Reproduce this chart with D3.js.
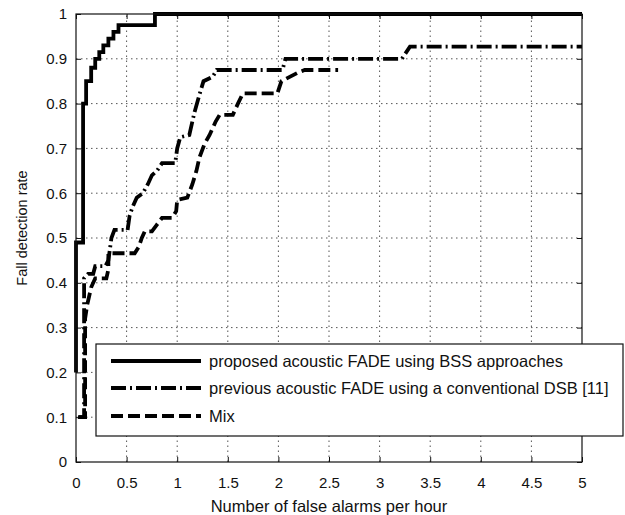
<!DOCTYPE html>
<html>
<head>
<meta charset="utf-8">
<script src="https://cdn.jsdelivr.net/npm/d3@7"></script>
<style>
  body { margin: 0; background: #fff; }
  svg { display: block; font-family: "Liberation Sans", Arial, sans-serif; }
</style>
</head>
<body>
<svg width="625" height="515"></svg>
<script>
var svg = d3.select('svg');

// tick labels
var xTicks = [0, 0.5, 1, 1.5, 2, 2.5, 3, 3.5, 4, 4.5, 5];
var yTicks = [0, 0.1, 0.2, 0.3, 0.4, 0.5, 0.6, 0.7, 0.8, 0.9, 1];

// proposed acoustic FADE using BSS approaches (solid)
var proposedX = [0, 0, 0.07, 0.07, 0.1, 0.1, 0.15, 0.15, 0.19, 0.19, 0.23, 0.23, 0.27, 0.27, 0.32, 0.32, 0.37, 0.37, 0.42, 0.42, 0.78, 0.78, 5];
var proposedY = [0.2, 0.49, 0.49, 0.8, 0.8, 0.85, 0.85, 0.88, 0.88, 0.9, 0.9, 0.915, 0.915, 0.93, 0.93, 0.945, 0.945, 0.96, 0.96, 0.975, 0.975, 1, 1];

// previous acoustic FADE using a conventional DSB (dash-dot)
var previousX = [0.02, 0.08, 0.08, 0.12, 0.17, 0.19, 0.29, 0.32, 0.35, 0.38, 0.51, 0.53, 0.56, 0.6, 0.66, 0.71, 0.75, 0.8, 0.85, 0.98, 1.0, 1.03, 1.12, 1.17, 1.22, 1.26, 1.35, 1.39, 2.04, 2.07, 3.22, 3.3, 5];
var previousY = [0.1, 0.1, 0.41, 0.42, 0.42, 0.437, 0.437, 0.45, 0.5, 0.518, 0.518, 0.55, 0.57, 0.59, 0.6, 0.62, 0.64, 0.65, 0.667, 0.667, 0.7, 0.725, 0.73, 0.78, 0.82, 0.85, 0.86, 0.875, 0.875, 0.9, 0.9, 0.927, 0.927];

// Mix (dashed)
var mixX = [0.03, 0.09, 0.09, 0.11, 0.15, 0.19, 0.3, 0.32, 0.32, 0.58, 0.62, 0.65, 0.68, 0.75, 0.8, 0.85, 0.95, 0.99, 1.0, 1.1, 1.15, 1.19, 1.22, 1.27, 1.32, 1.38, 1.42, 1.55, 1.6, 1.65, 1.99, 2.03, 2.2, 2.26, 2.59];
var mixY = [0.1, 0.1, 0.32, 0.35, 0.39, 0.41, 0.41, 0.43, 0.466, 0.466, 0.48, 0.5, 0.515, 0.515, 0.53, 0.545, 0.545, 0.56, 0.585, 0.59, 0.62, 0.65, 0.68, 0.71, 0.73, 0.76, 0.775, 0.775, 0.8, 0.823, 0.823, 0.85, 0.87, 0.875, 0.875];

var legendLabels = [
  'proposed acoustic FADE using BSS approaches',
  'previous acoustic FADE using a conventional DSB [11]',
  'Mix'
];
var dashes = [null, '15,4,2,4', '12,5'];

var x = d3.scaleLinear().domain([0, 5]).range([76, 582]);
var y = d3.scaleLinear().domain([0, 1]).range([462, 14]);

// dotted grid
var grid = svg.append('g').attr('stroke', '#555').attr('stroke-width', 1).attr('stroke-dasharray', '1.5,3.5');
grid.selectAll('.gx').data(xTicks.slice(1, -1)).enter().append('line')
  .attr('x1', d => x(d)).attr('x2', d => x(d))
  .attr('y1', y(0)).attr('y2', y(1));
grid.selectAll('.gy').data(yTicks.slice(1, -1)).enter().append('line')
  .attr('x1', x(0)).attr('x2', x(5))
  .attr('y1', d => y(d)).attr('y2', d => y(d));

// axes, matlab style ticks pointing inward
var xAxis = d3.axisBottom(x).tickValues(xTicks).tickFormat(d3.format('')).tickSize(-5).tickPadding(15);
var yAxis = d3.axisLeft(y).tickValues(yTicks).tickFormat(d3.format('')).tickSize(-5).tickPadding(9);

var gx = svg.append('g').attr('transform', 'translate(0,' + y(0) + ')').call(xAxis);
var gy = svg.append('g').attr('transform', 'translate(' + x(0) + ',0)').call(yAxis);
svg.append('g').attr('transform', 'translate(0,' + y(1) + ')')
  .call(d3.axisTop(x).tickValues(xTicks).tickFormat('').tickSize(-5));
svg.append('g').attr('transform', 'translate(' + x(5) + ',0)')
  .call(d3.axisRight(y).tickValues(yTicks).tickFormat('').tickSize(-5));

svg.selectAll('.domain').remove();
svg.selectAll('.tick line').attr('stroke', '#111');
[gx, gy].forEach(g => g.selectAll('text').attr('font-size', 15).attr('fill', '#111').attr('font-family', null));

// curves
var line = d3.line().x(d => x(d[0])).y(d => y(d[1]));
var series = [
  d3.zip(proposedX, proposedY),
  d3.zip(previousX, previousY),
  d3.zip(mixX, mixY)
];

svg.selectAll('.curve').data(series).enter().append('path')
  .attr('class', 'curve')
  .attr('d', line)
  .attr('fill', 'none')
  .attr('stroke', '#000')
  .attr('stroke-width', 3.8)
  .attr('stroke-dasharray', (d, i) => dashes[i]);

// plot box
svg.append('rect')
  .attr('x', x(0)).attr('y', y(1))
  .attr('width', x(5) - x(0)).attr('height', y(0) - y(1))
  .attr('fill', 'none').attr('stroke', '#111').attr('stroke-width', 1.2);

// legend
var legend = svg.append('g');
legend.append('rect')
  .attr('x', 96).attr('y', 344).attr('width', 527).attr('height', 92)
  .attr('fill', '#fff').attr('stroke', '#111').attr('stroke-width', 1.2);

var rowY = [361, 388, 416];
var rows = legend.selectAll('.row').data(legendLabels).enter().append('g')
  .attr('transform', (d, i) => 'translate(0,' + rowY[i] + ')');
rows.append('line')
  .attr('x1', 111).attr('x2', 201)
  .attr('stroke', '#000').attr('stroke-width', 3.8)
  .attr('stroke-dasharray', (d, i) => dashes[i]);
rows.append('text')
  .attr('x', 209).attr('dy', '0.35em')
  .attr('font-size', 16.5).attr('fill', '#111')
  .text(d => d);

// axis titles
svg.append('text')
  .attr('x', (x(0) + x(5)) / 2).attr('y', 512)
  .attr('text-anchor', 'middle').attr('font-size', 16.5).attr('fill', '#111')
  .text('Number of false alarms per hour');

svg.append('text')
  .attr('transform', 'translate(27,228) rotate(-90)')
  .attr('text-anchor', 'middle').attr('font-size', 14.5).attr('fill', '#111')
  .text('Fall detection rate');
</script>
</body>
</html>
